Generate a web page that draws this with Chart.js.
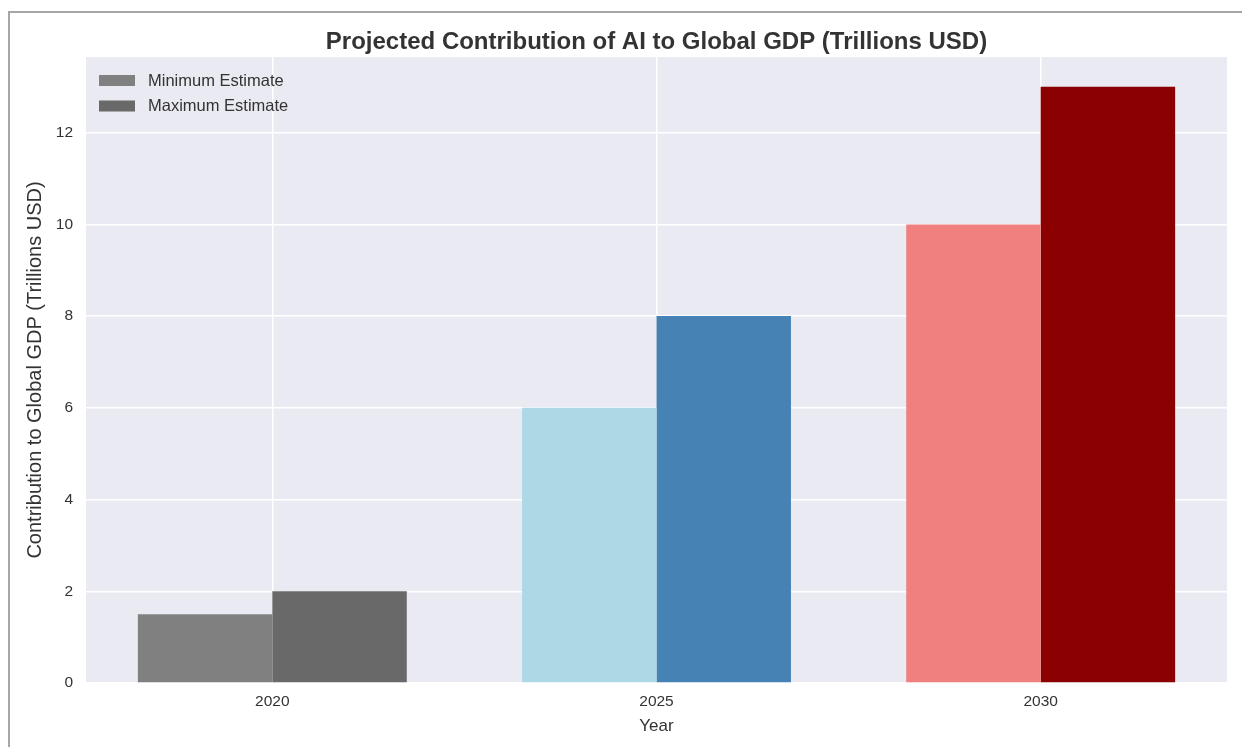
<!DOCTYPE html>
<html>
<head>
<meta charset="utf-8">
<title>AI GDP contribution</title>
<script src="https://cdn.jsdelivr.net/npm/chart.js@4.4.0/dist/chart.umd.min.js"></script>
<style>
html, body { margin: 0; padding: 0; background: #fff; overflow: hidden; }
#frame { position: absolute; left: 8px; top: 11px; width: 1400px; height: 900px; border: 2px solid #a6a6a6; }
#wrap { position: absolute; left: 0; top: 0; width: 1242px; height: 747px; }
</style>
</head>
<body>
<div id="frame"></div>
<div id="wrap"><canvas id="myChart" width="1242" height="747"></canvas></div>
<script>
'use strict'
const years = ['2020', '2025', '2030'];
const minEstimate = [1.5, 6, 10];
const maxEstimate = [2, 8, 13];
const minColors = ['#808080', '#add8e6', '#f08080'];
const maxColors = ['#696969', '#4682b4', '#8b0000'];
const yTicks = [0, 2, 4, 6, 8, 10, 12];

const fontFamily = '"Liberation Sans", Arial, sans-serif';
const textColor = '#333333';

// grey panel behind the bars
const panelBg = {
    id: 'panelBg',
    beforeDraw(chart) {
        const a = chart.chartArea;
        const ctx = chart.ctx;
        ctx.save();
        ctx.fillStyle = '#eaeaf2';
        ctx.fillRect(a.left, a.top, a.right - a.left, a.bottom - a.top);
        ctx.restore();
    }
};

// legend drawn inside the plot, top-left
const innerLegend = {
    id: 'innerLegend',
    afterDraw(chart) {
        const a = chart.chartArea;
        const ctx = chart.ctx;
        ctx.save();
        ctx.font = '16.5px ' + fontFamily;
        ctx.textBaseline = 'middle';
        chart.data.datasets.forEach(function (ds, i) {
            let y = a.top + 23 + i * 25.5;
            ctx.fillStyle = ds.backgroundColor[0];
            ctx.fillRect(a.left + 13, y - 5, 36, 11);
            ctx.fillStyle = textColor;
            ctx.fillText(ds.label, a.left + 62, y + 1);
        });
        ctx.restore();
    }
};

let ctx = document.getElementById('myChart');
let myChart = new Chart(ctx, {
    type: 'bar',
    data: {
        datasets: [{
            label: 'Minimum Estimate',
            data: minEstimate.map((v, i) => ({ x: i, y: v })),
            backgroundColor: minColors,
            borderWidth: 0
        },
        {
            label: 'Maximum Estimate',
            data: maxEstimate.map((v, i) => ({ x: i, y: v })),
            backgroundColor: maxColors,
            borderWidth: 0
        }]
    },
    options: {
        responsive: false,
        animation: false,
        devicePixelRatio: 1,
        categoryPercentage: 0.7,
        barPercentage: 1.0,
        layout: { padding: { left: 0, right: 15, top: 0, bottom: 0 } },
        plugins: {
            legend: { display: false },
            tooltip: { enabled: false },
            title: {
                display: true,
                text: 'Projected Contribution of AI to Global GDP (Trillions USD)',
                fullSize: false,
                color: textColor,
                font: { family: fontFamily, size: 24, weight: 'bold' },
                padding: { top: 27.5, bottom: 0.7 }
            }
        },
        scales: {
            x: {
                type: 'linear',
                offset: false,
                min: -0.485,
                max: 2.485,
                afterBuildTicks: function (s) { s.ticks = years.map((y, i) => ({ value: i })); },
                afterFit: function (s) { s.height = 64; },
                grid: { color: '#ffffff', lineWidth: 1.5, drawTicks: false, offset: false },
                border: { display: false },
                ticks: {
                    padding: 9,
                    color: textColor,
                    font: { family: fontFamily, size: 15.5 },
                    callback: function (v) { return years[v]; }
                },
                title: {
                    display: true,
                    text: 'Year',
                    color: textColor,
                    font: { family: fontFamily, size: 17 },
                    padding: { top: 0, bottom: 10 }
                }
            },
            y: {
                min: 0,
                max: 13.65,
                afterBuildTicks: function (s) { s.ticks = yTicks.map(v => ({ value: v })); },
                afterFit: function (s) { s.width = 86; },
                grid: { color: '#ffffff', lineWidth: 1.5, drawTicks: false },
                border: { display: false },
                ticks: {
                    padding: 13,
                    color: textColor,
                    font: { family: fontFamily, size: 15.5 }
                },
                title: {
                    display: true,
                    text: 'Contribution to Global GDP (Trillions USD)',
                    color: textColor,
                    font: { family: fontFamily, size: 20 },
                    padding: { top: 23, bottom: 0 }
                }
            }
        }
    },
    plugins: [panelBg, innerLegend]
});
</script>
</body>
</html>
